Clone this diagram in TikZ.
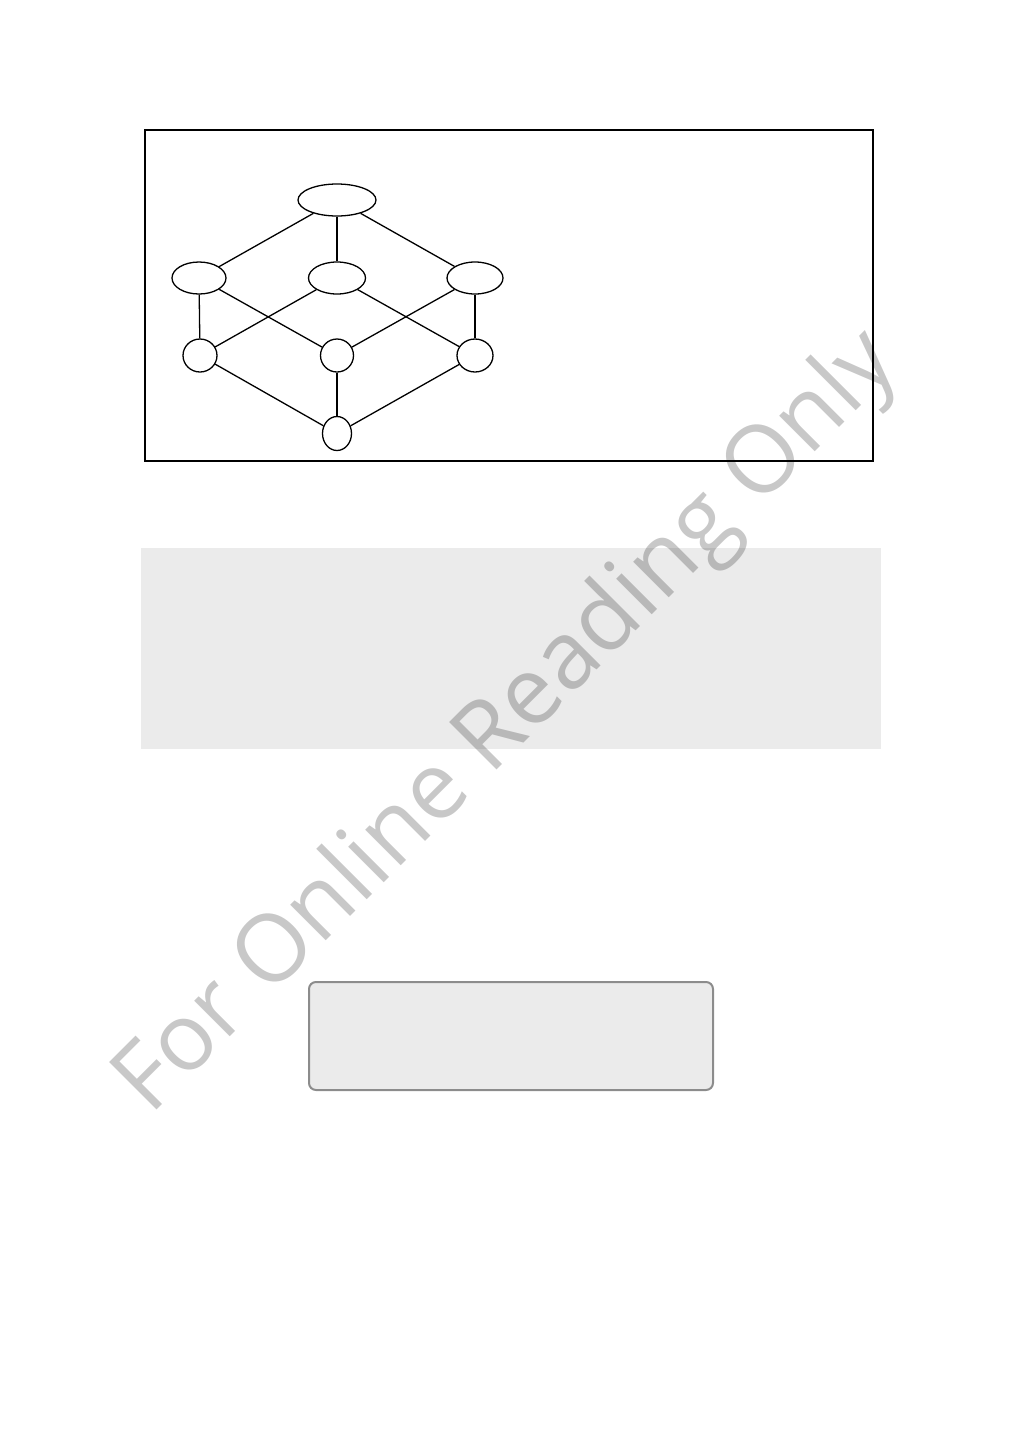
\documentclass[tikz,border=0pt]{standalone}
\usepackage{fontspec}
\newfontfamily\markfont{Open Sans}
\usetikzlibrary{shapes.geometric}
\definecolor{panelgray}{HTML}{EBEBEB}
\definecolor{edgegray}{HTML}{8C8C8C}
\definecolor{markgray}{HTML}{C8C8C8}

\begin{document}
\begin{tikzpicture}[x=.5pt,y=-.5pt,
  elt/.style={draw,ellipse,line width=.65pt,inner sep=0pt},
  link/.style={line width=.65pt},
  panel/.style={fill=panelgray},
  greybox/.style={draw=edgegray,fill=panelgray,line width=1pt,rounded corners=3.5pt}]
\useasboundingbox (0,0) rectangle (1009,1441);
\draw[line width=1pt] (145,130) rectangle (873,461);
% lattice
\node[elt,minimum width=39pt,minimum height=16pt] (top) at (337,200) {};
\node[elt,minimum width=27pt,minimum height=16pt] (m1) at (199,278) {};
\node[elt,minimum width=28.5pt,minimum height=16pt] (m2) at (337,278) {};
\node[elt,minimum width=28pt,minimum height=16pt] (m3) at (475,278) {};
\node[elt,minimum width=17pt,minimum height=16.5pt] (l1) at (200,355.5) {};
\node[elt,minimum width=16.5pt,minimum height=16.5pt] (l2) at (337,355.5) {};
\node[elt,minimum width=18pt,minimum height=16.5pt] (l3) at (475,355.5) {};
\node[elt,minimum width=14.5pt,minimum height=17pt] (bot) at (337,433.5) {};
\foreach \m in {m1,m2,m3}
  \draw[link] (top)--(\m);
\draw[link] (m1)--(l1);
\draw[link] (m1)--(l2);
\draw[link] (m2)--(l1);
\draw[link] (m2)--(l3);
\draw[link] (m3)--(l2);
\draw[link] (m3)--(l3);
\foreach \l in {l1,l2,l3}
  \draw[link] (\l)--(bot);
% panels
\fill[panel] (141,548) rectangle (881,749);
\draw[greybox] (309,982) rectangle (713,1090);
% watermark
\begin{scope}[blend mode=multiply]
\node[rotate=45,anchor=base west,inner sep=0pt,text=markgray,
  font=\markfont\fontsize{47}{47}\selectfont] (mark) at (150,1117)
  {For Online Reading Only};
\end{scope}
\end{tikzpicture}
\end{document}
